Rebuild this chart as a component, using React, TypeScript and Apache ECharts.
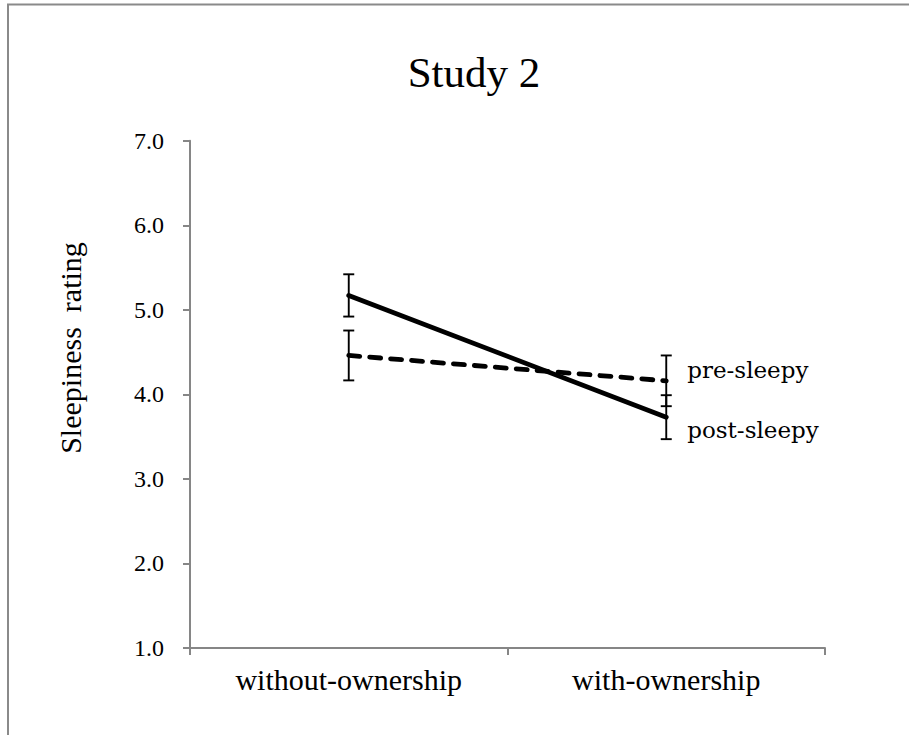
import React, { useEffect, useRef } from "react";
import * as echarts from "echarts";

const categories = ["without-ownership", "with-ownership"];
const postSleepy = [5.17, 3.73];
const postErr = [0.25, 0.26];
const preSleepy = [4.46, 4.16];
const preErr = [0.295, 0.3];
const yMin = 1;
const yMax = 7;
const yInterval = 1;
const titleText = "Study 2";
const yName = "Sleepiness  rating";

const AXIS_GRAY = "#868686";
const SERIF = "Liberation Serif";
const LABEL_SERIF = "DejaVu Serif";

function errorData(vals: number[], errs: number[]) {
  return vals.map((v, i) => [i, v - errs[i], v + errs[i]]);
}

function renderErr(params: any, api: any) {
  const x = api.value(0);
  const lo = api.coord([x, api.value(1)]);
  const hi = api.coord([x, api.value(2)]);
  const hw = 5.5;
  const style = { stroke: "#000", lineWidth: 1.9, fill: "none" };
  return {
    type: "group",
    children: [
      { type: "line", shape: { x1: lo[0], y1: lo[1], x2: hi[0], y2: hi[1] }, style },
      { type: "line", shape: { x1: lo[0] - hw, y1: lo[1], x2: lo[0] + hw, y2: lo[1] }, style },
      { type: "line", shape: { x1: hi[0] - hw, y1: hi[1], x2: hi[0] + hw, y2: hi[1] }, style },
    ],
  };
}

export default function App() {
  const ref = useRef<HTMLDivElement>(null);
  useEffect(() => {
    if (!ref.current) return;
    const chart = echarts.init(ref.current, undefined, { renderer: "svg" });
    const option: any = {
      animation: false,
      backgroundColor: "#fff",
      textStyle: { fontFamily: SERIF },
      graphic: [
        {
          type: "rect",
          shape: { x: 8, y: 4.5, width: 920, height: 760 },
          style: { fill: "none", stroke: "#8a8a8a", lineWidth: 2 },
          silent: true,
        },
        {
          type: "text",
          x: 474,
          y: 72,
          style: {
            text: titleText,
            fontFamily: SERIF,
            fontSize: 43,
            fill: "#000",
            textAlign: "center",
            textVerticalAlign: "middle",
          },
        },
        {
          type: "text",
          x: 70,
          y: 348,
          rotation: Math.PI / 2,
          style: {
            text: yName,
            fontFamily: SERIF,
            fontSize: 30,
            fill: "#000",
            textAlign: "center",
            textVerticalAlign: "middle",
          },
        },
      ],
      grid: { left: 190, right: 84, top: 140.7, bottom: 87, containLabel: false },
      xAxis: {
        type: "category",
        data: categories,
        boundaryGap: true,
        axisLine: { lineStyle: { color: AXIS_GRAY, width: 2 } },
        axisTick: { show: true, length: 7, lineStyle: { color: AXIS_GRAY, width: 2 } },
        axisLabel: { fontFamily: SERIF, fontSize: 30, color: "#000", margin: 16 },
        splitLine: { show: false },
      },
      yAxis: {
        type: "value",
        min: yMin,
        max: yMax,
        interval: yInterval,
        axisLine: { show: true, lineStyle: { color: AXIS_GRAY, width: 2 } },
        axisTick: { show: true, length: 7, lineStyle: { color: AXIS_GRAY, width: 2 } },
        axisLabel: {
          fontFamily: SERIF,
          fontSize: 24,
          color: "#000",
          margin: 26,
          formatter: (v: number) => v.toFixed(1),
        },
        splitLine: { show: false },
      },
      series: [
        {
          name: "post-sleepy",
          type: "line",
          data: postSleepy,
          symbol: "none",
          lineStyle: { color: "#000", width: 4.8, cap: "round" },
          endLabel: {
            show: true,
            formatter: "{a}",
            fontFamily: LABEL_SERIF,
            fontSize: 23,
            color: "#000",
            distance: 21,
            offset: [0, 13],
          },
          z: 3,
        },
        {
          name: "pre-sleepy",
          type: "line",
          data: preSleepy,
          symbol: "none",
          lineStyle: { color: "#000", width: 4.8, type: [11, 10], cap: "round" },
          endLabel: {
            show: true,
            formatter: "{a}",
            fontFamily: LABEL_SERIF,
            fontSize: 23,
            color: "#000",
            distance: 21,
            offset: [0, -11],
          },
          z: 3,
        },
        {
          name: "post-err",
          type: "custom",
          data: errorData(postSleepy, postErr),
          renderItem: renderErr,
          z: 4,
        },
        {
          name: "pre-err",
          type: "custom",
          data: errorData(preSleepy, preErr),
          renderItem: renderErr,
          z: 4,
        },
      ],
    };
    chart.setOption(option);
    return () => chart.dispose();
  }, []);
  return (
    <div
      ref={ref}
      style={{ position: "absolute", left: 0, top: 0, width: 909, height: 735 }}
    />
  );
}
